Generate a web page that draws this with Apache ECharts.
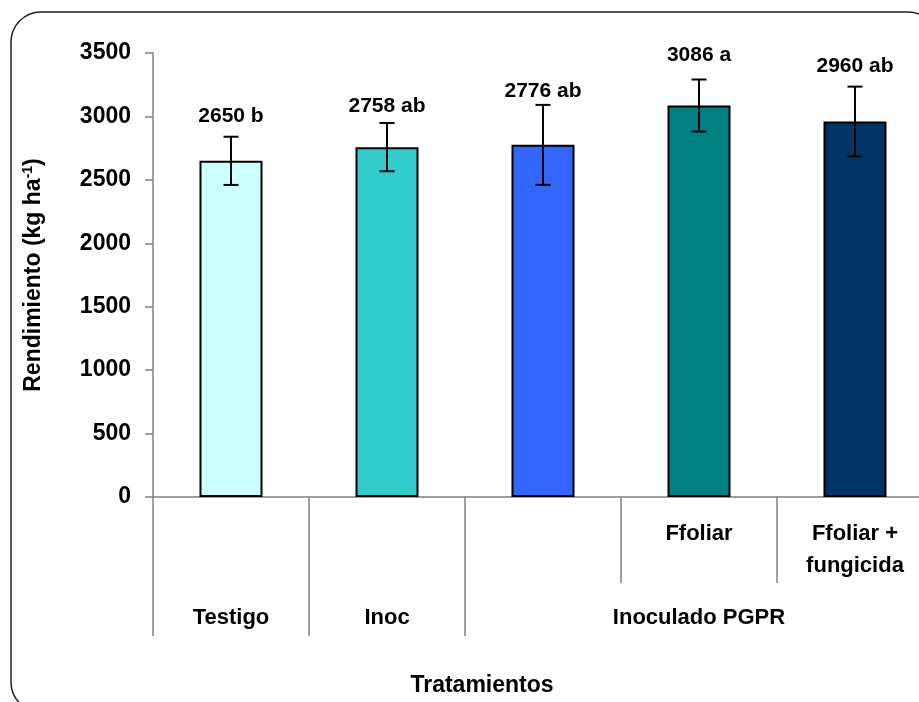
<!DOCTYPE html>
<html><head><meta charset="utf-8">
<script src="https://cdn.jsdelivr.net/npm/echarts@6/dist/echarts.min.js"></script>
<style>html,body{margin:0;padding:0;background:#fff}#c{width:919px;height:702px}</style>
</head><body><div id="c"></div>
<script>
// ---- data ----
const categories = ['Testigo', 'Inoc', 'Inoculado PGPR', 'Ffoliar', 'Ffoliar + fungicida'];
const subLabels = ['', '', '', 'Ffoliar', 'Ffoliar +\nfungicida'];
const groupLabels = ['Testigo', 'Inoc', 'Inoculado PGPR'];
const groupStart = [0, 1, 2];
const groupEnd = [0, 1, 4];
const values = [2650, 2758, 2776, 3086, 2960];
const errors = [190, 190, 315, 205, 275];
const letters = ['b', 'ab', 'ab', 'a', 'ab'];
const yMin = 0, yMax = 3500, yStep = 500;

// ---- styles ----
const barColors = ['#CCFFFF', '#33CCCC', '#3366FF', '#008080', '#003366'];
const labelGap = [21, 17, 14, 24, 20];
const FONT = '"Liberation Sans", Arial, sans-serif';
const axisGrey = '#808080';

const chart = echarts.init(document.getElementById('c'));

chart.setOption({
  animation: false,
  backgroundColor: '#fff',
  grid: { left: 153, top: 53, width: 780, height: 444, containLabel: false, outerBoundsMode: 'none' },
  graphic: [
    { type: 'rect', z: -10, shape: { x: 11, y: 12, width: 927, height: 700, r: 30 },
      style: { fill: 'none', stroke: '#222', lineWidth: 1.5 } },
    { type: 'text', x: 482, y: 686,
      style: { text: 'Tratamientos', fontFamily: FONT, fontSize: 23, fontWeight: 'bold',
               fill: '#000', align: 'center', verticalAlign: 'middle' } }
  ],
  xAxis: {
    type: 'category',
    data: categories,
    axisLine: { show: true, lineStyle: { color: axisGrey, width: 1.5 } },
    axisTick: { show: false },
    splitLine: { show: false },
    axisLabel: {
      interval: 0, margin: 21,
      formatter: (v, i) => subLabels[i],
      fontFamily: FONT, fontSize: 22, fontWeight: 'bold', color: '#000', lineHeight: 32
    }
  },
  yAxis: {
    type: 'value', min: yMin, max: yMax, interval: yStep,
    name: 'Rendimiento (kg ha{sup|-1})',
    nameLocation: 'middle', nameGap: 106,
    nameTextStyle: {
      fontFamily: FONT, fontSize: 23, fontWeight: 'bold', color: '#000',
      rich: { sup: { fontFamily: FONT, fontSize: 14, fontWeight: 'bold', color: '#000', padding: [0, 0, 12, 0] } }
    },
    axisLine: { show: true, lineStyle: { color: axisGrey, width: 1.5 } },
    axisTick: { show: true, inside: false, length: 8, lineStyle: { color: axisGrey, width: 1.5 } },
    splitLine: { show: false },
    axisLabel: { margin: 22, fontFamily: FONT, fontSize: 23, fontWeight: 'bold', color: '#000',
                 formatter: v => String(v) }
  },
  series: [
    {
      type: 'bar',
      barWidth: 63,
      data: values.map((v, i) => ({ value: v, itemStyle: { color: barColors[i] } })),
      itemStyle: { borderColor: '#000', borderWidth: 2 }
    },
    {
      type: 'custom',
      z: 5,
      clip: false,
      data: values.map((v, i) => [i, v - errors[i], v + errors[i], v]),
      renderItem: (params, api) => {
        const i = api.value(0);
        const lo = api.coord([i, api.value(1)]);
        const hi = api.coord([i, api.value(2)]);
        const cap = 7.5;
        const st = { stroke: '#000', lineWidth: 2 };
        return {
          type: 'group',
          children: [
            { type: 'line', shape: { x1: lo[0], y1: lo[1], x2: hi[0], y2: hi[1] }, style: st },
            { type: 'line', shape: { x1: lo[0] - cap, y1: lo[1], x2: lo[0] + cap, y2: lo[1] }, style: st },
            { type: 'line', shape: { x1: hi[0] - cap, y1: hi[1], x2: hi[0] + cap, y2: hi[1] }, style: st },
            { type: 'text', x: hi[0], y: hi[1] - labelGap[i],
              style: { text: api.value(3) + ' ' + letters[i], fontFamily: FONT, fontSize: 21,
                       fontWeight: 'bold', fill: '#000', align: 'center', verticalAlign: 'middle' } }
          ]
        };
      }
    },
    {
      // category dividers below the axis
      type: 'custom',
      clip: false,
      silent: true,
      data: categories.map((c, i) => [i, groupStart.indexOf(i) >= 0 ? 1 : 0]).concat([[categories.length, 1]]),
      renderItem: (params, api) => {
        const i = api.value(0);
        const bw = api.size([1, 0])[0];
        const p = api.coord([Math.min(i, categories.length - 1), yMin]);
        const x = i < categories.length ? p[0] - bw / 2 : p[0] + bw / 2;
        const len = api.value(1) ? 139 : 86;
        return { type: 'line', shape: { x1: x, y1: p[1], x2: x, y2: p[1] + len },
                 style: { stroke: axisGrey, lineWidth: 1.5 } };
      }
    },
    {
      // group labels (second level)
      type: 'custom',
      clip: false,
      silent: true,
      data: groupLabels.map((g, k) => [groupStart[k], groupEnd[k]]),
      renderItem: (params, api) => {
        const a = api.coord([api.value(0), yMin]);
        const b = api.coord([api.value(1), yMin]);
        return { type: 'text', x: (a[0] + b[0]) / 2, y: a[1] + 121,
                 style: { text: groupLabels[params.dataIndex], fontFamily: FONT, fontSize: 22,
                          fontWeight: 'bold', fill: '#000', align: 'center', verticalAlign: 'middle' } };
      }
    }
  ]
});
</script>
</body></html>
